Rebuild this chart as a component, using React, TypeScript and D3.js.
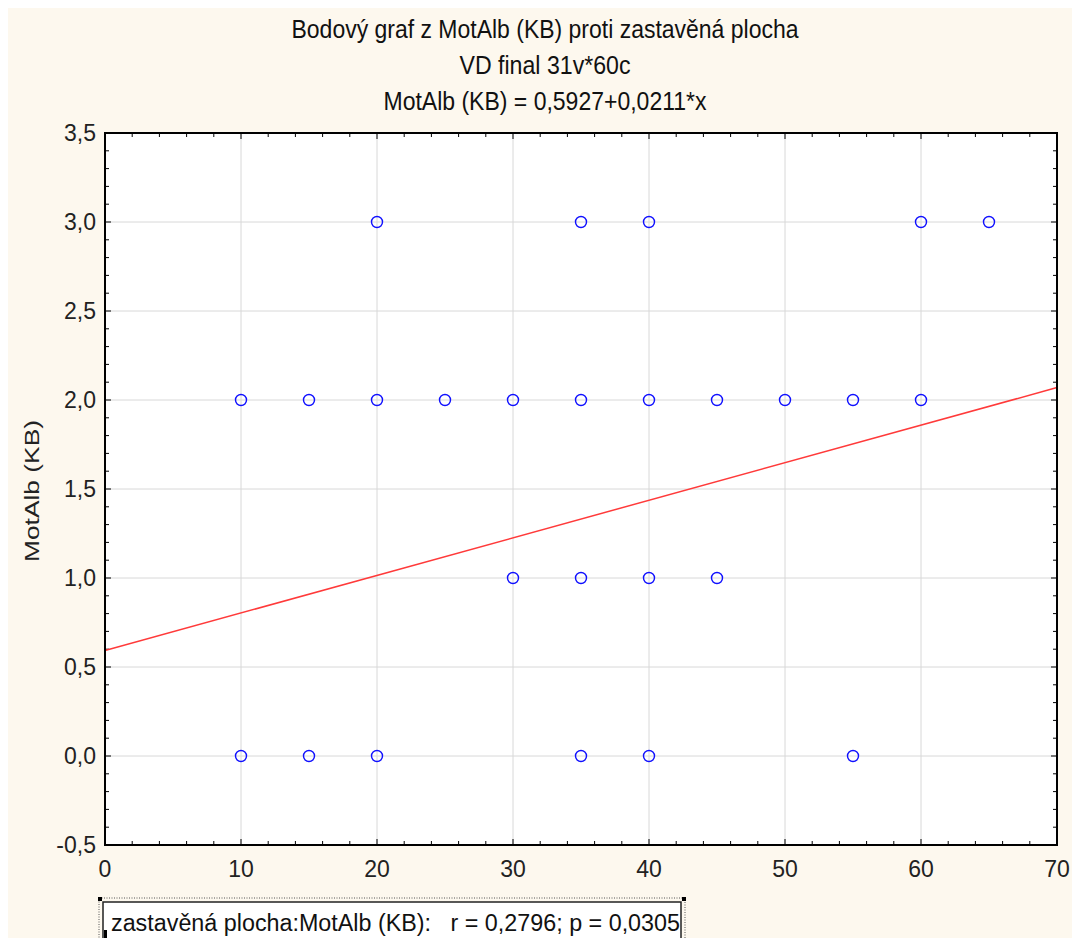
import React from 'react';
import * as d3 from 'd3';

const xTicks = [0, 10, 20, 30, 40, 50, 60, 70];
const yTicks = [-0.5, 0, 0.5, 1, 1.5, 2, 2.5, 3, 3.5];
const xs = [20, 35, 40, 60, 65, 10, 15, 20, 25, 30, 35, 40, 45, 50, 55, 60, 30, 35, 40, 45, 10, 15, 20, 35, 40, 55];
const ys = [3, 3, 3, 3, 3, 2, 2, 2, 2, 2, 2, 2, 2, 2, 2, 2, 1, 1, 1, 1, 0, 0, 0, 0, 0, 0];
const intercept = 0.5927;
const slope = 0.0211;
const titles = [
  'Bodový graf z MotAlb (KB) proti zastavěná plocha',
  'VD final 31v*60c',
  'MotAlb (KB) = 0,5927+0,0211*x',
];
const yLabel = 'MotAlb (KB)';
const legendText = 'zastavěná plocha:MotAlb (KB):   r = 0,2796; p = 0,0305';

const W = 1072;
const H = 938;
const font = '"Liberation Sans", Arial, sans-serif';

export default function App() {
  const left = 105, right = 1057, top = 133, bottom = 845;
  const x = d3.scaleLinear().domain([0, 70]).range([left, right]);
  const y = d3.scaleLinear().domain([-0.5, 3.5]).range([bottom, top]);
  const fmt = (v: number) => (Number.isInteger(v) ? v.toFixed(1) : String(v)).replace('.', ',');

  const xMinor = d3.range(0, 70.001, 2);
  const yMinor = d3.range(-0.5, 3.5001, 0.1);
  const line = d3.line<number>().x((d) => x(d)).y((d) => y(intercept + slope * d));
  const titleWidths = [507, 171, 323];

  return (
    <svg width={W} height={H} style={{ position: 'absolute', left: 0, top: 0 }} fontFamily={font}>
      <rect x={8} y={8} width={W - 8} height={H - 8} fill="#fdf8ee" />
      {titles.map((t, i) => (
        <text key={i} x={545} y={38 + i * 36} textAnchor="middle" fontSize={25} fill="#111"
          textLength={titleWidths[i]} lengthAdjust="spacingAndGlyphs">
          {t}
        </text>
      ))}
      <rect x={left} y={top} width={right - left} height={bottom - top} fill="#fff" />
      {xTicks.slice(1, -1).map((t) => (
        <line key={'gx' + t} x1={x(t)} x2={x(t)} y1={top} y2={bottom} stroke="#d8d8d8" />
      ))}
      {yTicks.slice(1, -1).map((t) => (
        <line key={'gy' + t} x1={left} x2={right} y1={y(t)} y2={y(t)} stroke="#d8d8d8" />
      ))}
      {xMinor.map((t, i) => (
        <g key={'mx' + i} stroke="#000">
          <line x1={x(t)} x2={x(t)} y1={bottom} y2={bottom - (i % 5 === 0 ? 6 : 4)} />
          <line x1={x(t)} x2={x(t)} y1={top} y2={top + (i % 5 === 0 ? 6 : 4)} />
        </g>
      ))}
      {yMinor.map((t, i) => (
        <g key={'my' + i} stroke="#000">
          <line x1={left} x2={left + (i % 5 === 0 ? 6 : 4)} y1={y(t)} y2={y(t)} />
          <line x1={right} x2={right - (i % 5 === 0 ? 6 : 4)} y1={y(t)} y2={y(t)} />
        </g>
      ))}
      <path d={line([0, 70]) ?? ''} stroke="#ff3a3a" strokeWidth={1.5} fill="none" />
      {xs.map((v, i) => (
        <circle key={i} cx={x(v)} cy={y(ys[i])} r={5.5} fill="none" stroke="#1010ff" strokeWidth={1.4} />
      ))}
      <rect x={left} y={top} width={right - left} height={bottom - top} fill="none" stroke="#000" strokeWidth={2} />
      {xTicks.map((t) => (
        <text key={'tx' + t} x={x(t)} y={bottom + 32} textAnchor="middle" fontSize={23} fill="#222">
          {t}
        </text>
      ))}
      {yTicks.map((t) => (
        <text key={'ty' + t} x={left - 9} y={y(t) + 8} textAnchor="end" fontSize={23} fill="#222">
          {fmt(t)}
        </text>
      ))}
      <text transform={`translate(39,${(top + bottom) / 2 + 2}) rotate(-90)`} textAnchor="middle" fontSize={21}
        fill="#222" textLength={142} lengthAdjust="spacingAndGlyphs">
        {yLabel}
      </text>
      <rect x={99} y={898} width={586} height={50} fill="none" stroke="#555" strokeDasharray="1,1.5" />
      <rect x={103} y={902} width={578} height={45} fill="#fff" stroke="#222" strokeWidth={1.5} />
      <rect x={98} y={897} width={4} height={4} fill="#000" />
      <rect x={682} y={897} width={4} height={4} fill="#000" />
      <rect x={104} y={930} width={3} height={8} fill="#000" />
      <text x={111} y={931} fontSize={23} fill="#111" textLength={569} lengthAdjust="spacingAndGlyphs"
        style={{ whiteSpace: 'pre' }}>
        {legendText}
      </text>
    </svg>
  );
}
